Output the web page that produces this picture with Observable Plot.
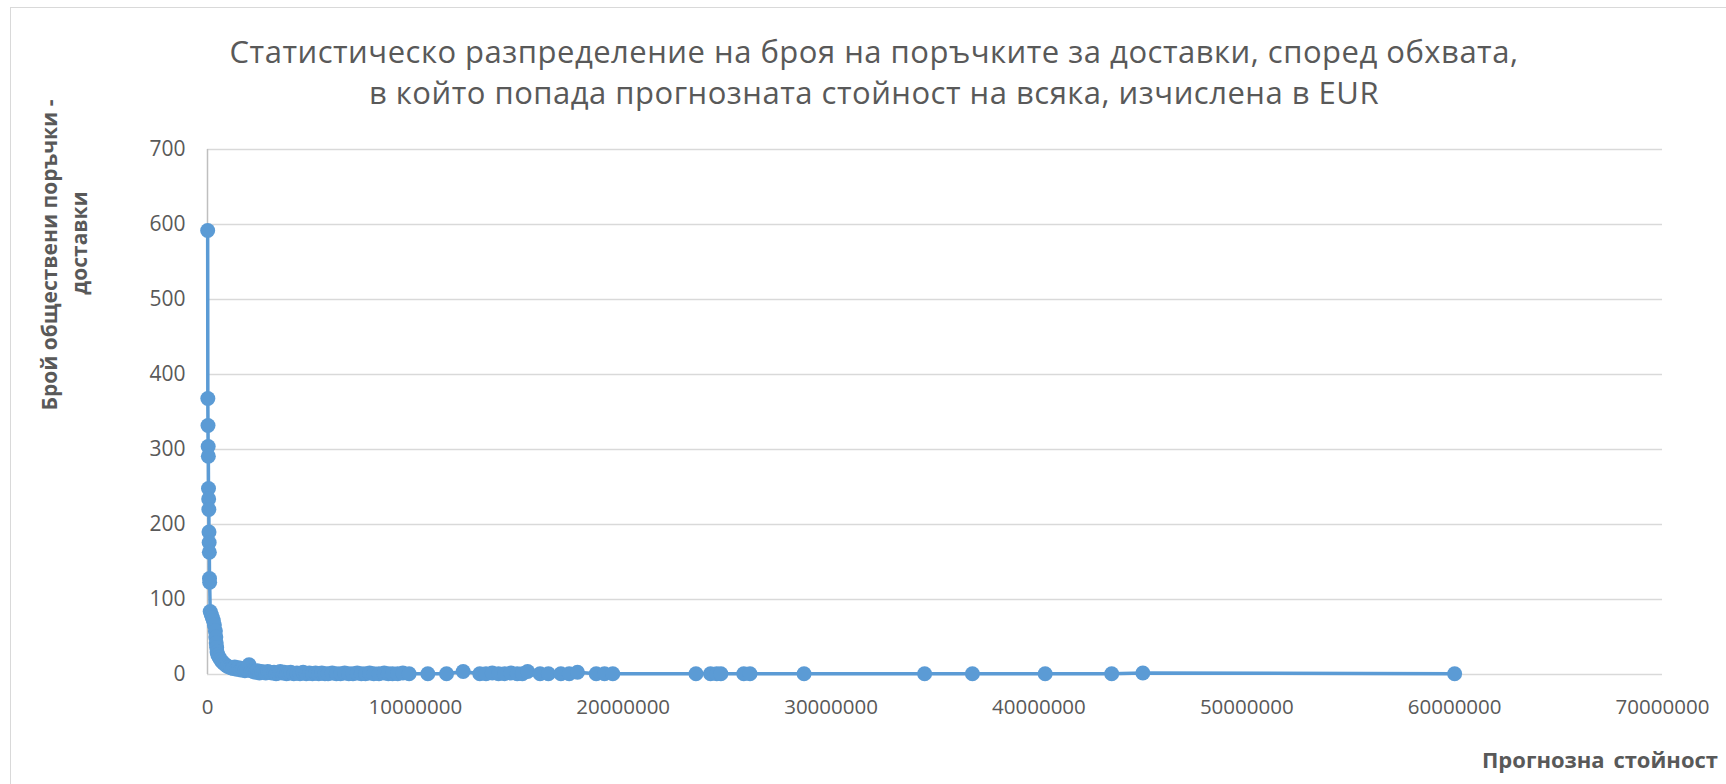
<!DOCTYPE html>
<html>
<head>
<meta charset="utf-8">
<script src="https://cdn.jsdelivr.net/npm/d3@7"></script>
<script src="https://cdn.jsdelivr.net/npm/@observablehq/plot@0.6"></script>
<style>
  html, body { margin: 0; padding: 0; background: #fff; }
  #wrap { position: relative; width: 1726px; height: 784px; overflow: hidden; font-family: "Open Sans", sans-serif; }
  #border { position: absolute; left: 10px; top: 7px; width: 1900px; height: 1000px; border: 1.5px solid #d9d9d9; box-sizing: border-box; }
  #chart { position: absolute; left: 0; top: 0; }
  .title { position: absolute; left: 0; width: 1748px; text-align: center; font-size: 31px; letter-spacing: 0.5px; line-height: 41px; color: #595959; white-space: nowrap; }
  #ytitle { position: absolute; width: 400px; height: 60px; left: -136.5px; top: 225px; transform: rotate(-90deg); transform-origin: 50% 50%; text-align: center; font-size: 21px; font-weight: bold; line-height: 30px; color: #595959; white-space: nowrap; }
  #ytitle span { position: relative; left: 12px; }
  #xtitle { position: absolute; right: 8px; top: 748px; font-size: 22px; font-weight: bold; line-height: 22px; color: #595959; word-spacing: 3px; white-space: nowrap; }
</style>
</head>
<body>
<div id="wrap">
  <div id="border"></div>
  <div id="chart"></div>
  <div class="title" id="t1" style="top:30.5px">Статистическо разпределение на броя на поръчките за доставки, според обхвата,</div>
  <div class="title" id="t2" style="top:71.5px">в който попада прогнозната стойност на всяка, изчислена в EUR</div>
  <div id="ytitle">Брой обществени поръчки -<br><span>доставки</span></div>
  <div id="xtitle">Прогнозна стойност</div>
</div>
<script>
// Estimated value (EUR) of each range
const estimatedValues = [
  8000, 16000, 24000, 32000, 40000, 48000, 56000, 64000, 72000, 80000, 88000, 96000, 104000,
  130000, 180000, 230000, 280000, 330000, 380000, 400000, 420000, 440000, 460000,
  500000, 560000, 620000, 700000, 780000, 860000, 950000, 1040000, 1130000, 1220000,
  1310000, 1400000, 1500000, 1600000, 1700000, 1800000, 1900000, 2000000, 2100000, 2200000,
  2300000, 2400000, 2500000, 2600000, 2700000, 2800000, 2900000, 3000000, 3100000, 3200000,
  3300000, 3400000, 3500000, 3600000, 3700000, 3800000, 3900000, 4000000, 4150000, 4300000,
  4450000, 4600000, 4750000, 4900000, 5050000, 5200000, 5350000, 5500000, 5650000, 5800000,
  6000000, 6200000, 6400000, 6600000, 6800000, 7000000, 7200000, 7400000, 7600000, 7800000,
  8000000, 8250000, 8500000, 8700000, 8900000, 9150000, 9400000, 9700000,
  10600000, 11500000, 12300000, 13100000, 13400000, 13700000, 14000000, 14300000, 14600000,
  14900000, 15150000, 15400000, 16000000, 16400000, 17000000, 17400000, 17800000, 18700000,
  19100000, 19500000, 23500000, 24200000, 24500000, 24700000, 25800000, 26100000, 28700000,
  34500000, 36800000, 40300000, 43500000, 45000000, 60000000
];
// Number of public supply contracts
const contractCounts = [
  592, 368, 332, 304, 291, 248, 234, 220, 190, 176, 163, 128, 123,
  84, 80, 76, 72, 66, 58, 50, 42, 36, 30,
  26, 23, 20, 17, 15, 13, 11, 10, 9, 8,
  10, 7, 9, 6, 8, 5, 7, 13, 5, 4,
  3, 5, 2, 4, 3, 2, 4, 3, 2, 3,
  1, 2, 4, 2, 3, 1, 2, 3, 1, 2,
  1, 3, 1, 2, 1, 2, 1, 2, 1, 1,
  2, 1, 1, 2, 1, 1, 2, 1, 1, 2,
  1, 1, 2, 1, 1, 1, 2, 1,
  1, 1, 4, 1, 1, 2, 1, 1, 2,
  1, 1, 4, 1, 1, 1, 1, 3, 1,
  1, 1, 1, 1, 1, 1, 1, 1, 1,
  1, 1, 1, 1, 2, 1
];
const xTicks = [0, 10000000, 20000000, 30000000, 40000000, 50000000, 60000000, 70000000];
const yTicks = [0, 100, 200, 300, 400, 500, 600, 700];

const points = estimatedValues.map((v, i) => ({value: v, count: contractCounts[i]}));

const chart = Plot.plot({
  width: 1726,
  height: 784,
  marginLeft: 207,
  marginRight: 64,
  marginTop: 149,
  marginBottom: 110,
  x: {domain: [0, 70000000]},
  y: {domain: [0, 700]},
  style: {fontFamily: "Open Sans, sans-serif", background: "transparent", overflow: "visible"},
  marks: [
    Plot.gridY(yTicks.filter(d => d > 0), {stroke: "#d9d9d9", strokeOpacity: 1, strokeWidth: 1.5}),
    Plot.ruleY([0], {stroke: "#d9d9d9", strokeWidth: 1.5}),
    Plot.ruleX([0], {stroke: "#bfbfbf", strokeWidth: 1.5}),
    Plot.axisX(xTicks, {tickSize: 0, tickPadding: 25, tickFormat: d => String(d), fontSize: 20.5, fill: "#595959", label: null}),
    Plot.axisY(yTicks, {tickSize: 0, tickPadding: 22, tickFormat: d => String(d), fontSize: 21, fill: "#595959", label: null}),
    Plot.line(points, {x: "value", y: "count", stroke: "#5b9bd5", strokeWidth: 3.5}),
    Plot.dot(points, {x: "value", y: "count", r: 7.5, fill: "#5b9bd5", stroke: null})
  ]
});
document.getElementById("chart").appendChild(chart);
</script>
</body>
</html>
